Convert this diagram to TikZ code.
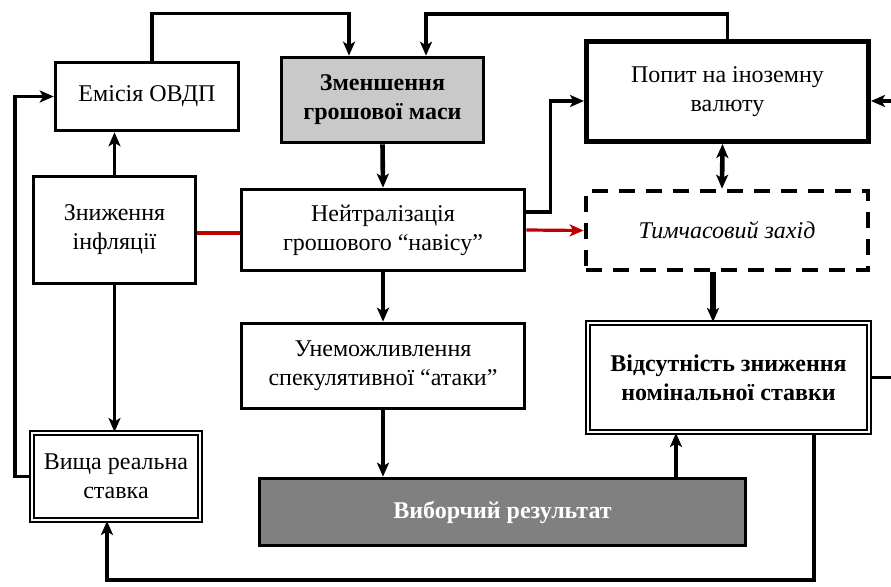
\documentclass[tikz,border=0pt]{standalone}
\usepackage{fontspec}
\setmainfont{Liberation Serif}
\usepackage{tikz}
\usetikzlibrary{arrows.meta,positioning}

\definecolor{lightfill}{HTML}{C9C9C9}
\definecolor{darkfill}{HTML}{808080}
\definecolor{redline}{HTML}{C00000}

\begin{document}
\begin{tikzpicture}[x=1pt,y=-1pt]
	\tikzset{box/.style={draw,line width=3.6pt,align=center,inner sep=0pt,
		font=\fontsize{24}{29}\selectfont},
		dbox/.style={box,line width=2pt,double,double distance=2.4pt},
		arr/.style={line width=3.2pt,-{Stealth[length=14pt,width=12pt,inset=3.5pt]}},
		tharr/.style={arr,line width=4.6pt}}
	\useasboundingbox (0,0) rectangle (891,586);

	%% boxes
	\node[box,minimum width=183pt,minimum height=68pt] (ovdp) at (147,96.5) {Емісія ОВДП};
	\node[box,fill=lightfill,minimum width=202pt,minimum height=85pt,font=\fontsize{24}{29}\selectfont\bfseries] (mass) at (382.5,100) {Зменшення\\грошової маси};
	\node[box,line width=5pt,minimum width=282pt,minimum height=100pt] (demand) at (727.5,91.5) {Попит на іноземну\\валюту};
	\node[box,minimum width=162pt,minimum height=107pt] (infl) at (114.5,230) {Зниження\\інфляції};
	\node[box,minimum width=283pt,minimum height=81pt] (neutr) at (383,230) {Нейтралізація\\грошового “навісу”};
	\node[box,line width=4.6pt,dash pattern=on 16pt off 11pt,minimum width=282pt,minimum height=79pt,font=\fontsize{24}{29}\selectfont\itshape] (temp) at (727,230.5) {Тимчасовий захід};
	\node[box,minimum width=283pt,minimum height=85pt] (attack) at (383,366) {Унеможливлення\\спекулятивної “атаки”};
	\node[dbox,minimum width=281pt,minimum height=109pt,font=\fontsize{24}{29}\selectfont\bfseries] (rate) at (728.5,377.5) {Відсутність зниження\\номінальної ставки};
	\node[dbox,minimum width=168pt,minimum height=87pt] (real) at (116,476.5) {Вища реальна\\ставка};
	\node[box,fill=darkfill,text=white,minimum width=486pt,minimum height=67pt,font=\fontsize{24}{29}\selectfont\bfseries] (result) at (502.5,512) {Виборчий результат};

	%% connectors
	\draw[arr] ([xshift=5pt]ovdp.north) -- ++(0,-47) -| ([xshift=-33.5pt]mass.north);
	\draw[arr] (demand.north) -- ++(0,-25) -| ([xshift=43.5pt]mass.north);
	\draw[arr] (real.west) -- ++(-16,0) |- (ovdp.west);
	\draw[arr] (infl.north) -- (infl.north |- ovdp.south);
	\draw[arr] (infl.south) -- (infl.south |- real.north);
	\draw[redline,line width=3.6pt] ([yshift=-3pt]infl.east) -- ([yshift=-3pt]neutr.west);
	\draw[tharr] (mass.south) -- (neutr.north);
	\draw[arr] ([yshift=18pt]neutr.east) -- ++(24,0) |- ([yshift=-9.5pt]demand.west);
	\draw[arr,redline] (neutr.east) -- (temp.west);
	\draw[tharr,{Stealth[length=14pt,width=12pt,inset=3.5pt]}-{Stealth[length=14pt,width=12pt,inset=3.5pt]}] ([xshift=-5pt]demand.south) -- ([xshift=-5pt]temp.north);
	\draw[arr,line width=5.5pt] ([xshift=-14pt]temp.south) -- ([xshift=-14pt]temp.south |- rate.north);
	\draw[arr] (neutr.south) -- (attack.north);
	\draw[arr] (attack.south) -- (attack.south |- result.north);
	\draw[arr] ([xshift=173.5pt]result.north) -- ([xshift=173.5pt]result.north |- rate.south);
	\draw[arr] (rate.east) -- ++(24,0) |- ([yshift=-9.5pt]demand.east);
	\draw[arr,line width=4pt] ([xshift=85.5pt]rate.south) -- ++(0,147) -| ([xshift=-9pt]real.south);
\end{tikzpicture}
\end{document}
